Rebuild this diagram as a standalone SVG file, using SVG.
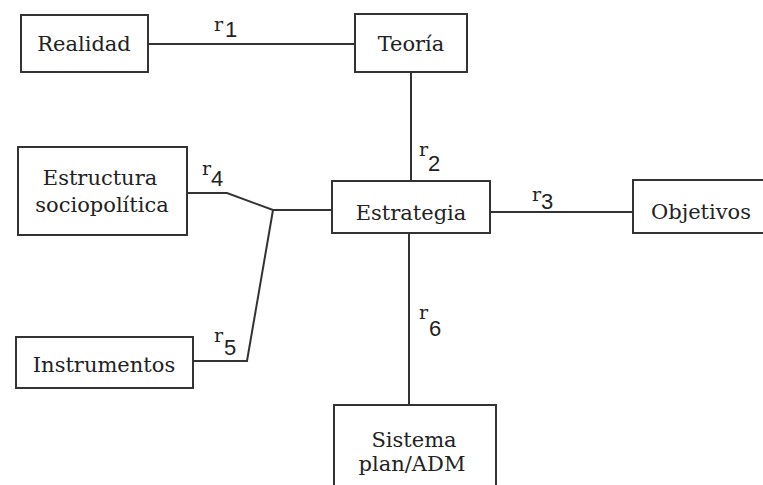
<svg xmlns="http://www.w3.org/2000/svg" width="763" height="485" viewBox="0 0 763 485">
<style>
.box{fill:#fff;stroke:#333;stroke-width:2}
.t{font-family:"DejaVu Serif","Liberation Serif",serif;font-size:21px;fill:#222;text-anchor:middle}
.c{fill:none;stroke:#333;stroke-width:2}
.r{font-family:"DejaVu Serif","Liberation Serif",serif;font-size:19px;fill:#222}
.d{font-family:"Liberation Sans","DejaVu Sans",sans-serif;font-size:22px;fill:#222}
</style>
<rect width="763" height="485" fill="#fff"/>
<g id="connectors">
<line class="c" x1="148" y1="44" x2="355" y2="44"/>
<line class="c" x1="411" y1="72" x2="411" y2="181"/>
<line class="c" x1="490" y1="212" x2="633" y2="212"/>
<polyline class="c" points="187,193 227,193 273,210 332,210"/>
<polyline class="c" points="193,361 247,361 273,210"/>
<line class="c" x1="409" y1="233" x2="409" y2="405"/>
<text class="r" x="214" y="31">r</text><text class="d" x="225" y="37">1</text>
<text class="r" x="419" y="156">r</text><text class="d" x="428" y="171">2</text>
<text class="r" x="532" y="201">r</text><text class="d" x="541" y="209">3</text>
<text class="r" x="202" y="175">r</text><text class="d" x="211" y="186">4</text>
<text class="r" x="214" y="342">r</text><text class="d" x="224" y="355">5</text>
<text class="r" x="419" y="319">r</text><text class="d" x="429" y="336">6</text>
</g>
<g id="realidad"><rect class="box" x="21" y="15" width="127" height="57"/><text class="t" x="84" y="51">Realidad</text></g>
<g id="teoria"><rect class="box" x="355" y="14" width="112" height="58"/><text class="t" x="411" y="51">Teoría</text></g>
<g id="estructura"><rect class="box" x="18" y="147" width="169" height="88"/><text class="t" x="100" y="185">Estructura</text><text class="t" x="102" y="212">sociopolítica</text></g>
<g id="estrategia"><rect class="box" x="332" y="181" width="158" height="52"/><text class="t" x="411" y="220">Estrategia</text></g>
<g id="objetivos"><rect class="box" x="633" y="180" width="140" height="53"/><text class="t" x="701" y="219">Objetivos</text></g>
<g id="instrumentos"><rect class="box" x="16" y="337" width="177" height="51"/><text class="t" x="104" y="372">Instrumentos</text></g>
<g id="sistema"><rect class="box" x="334" y="405" width="162" height="90"/><text class="t" x="414" y="447">Sistema</text><text class="t" x="412" y="471">plan/ADM</text></g>
</svg>
